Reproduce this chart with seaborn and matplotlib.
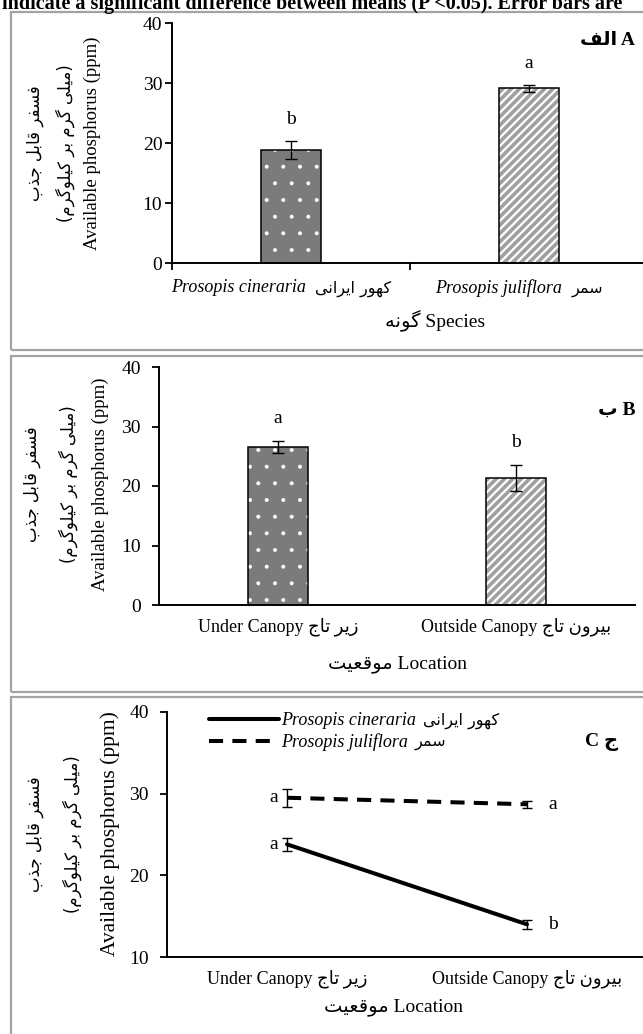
import numpy as np
import pandas as pd
import matplotlib
matplotlib.use("Agg")
import matplotlib.pyplot as plt
import matplotlib.colors as mcolors
from matplotlib.patches import Rectangle
from matplotlib.offsetbox import TextArea, HPacker, AnnotationBbox
import seaborn as sns

# ---------------- data ----------------
species_en = ["Prosopis cineraria", "Prosopis juliflora"]
species_fa = ["کهور ایرانی", "سمر"]
species_mean = [18.8, 29.1]
species_se = [1.5, 0.6]
species_letters = ["b", "a"]

location_en = ["Under Canopy", "Outside Canopy"]
location_fa = ["زیر تاج", "بیرون تاج"]
location_mean = [26.6, 21.3]
location_se = [1.0, 2.2]
location_letters = ["a", "b"]

cineraria_mean = [23.8, 14.0]
cineraria_se = [0.8, 0.55]
cineraria_letters = ["a", "b"]
juliflora_mean = [29.5, 28.7]
juliflora_se = [1.1, 0.4]
juliflora_letters = ["a", "a"]

yticks_ab = [0, 10, 20, 30, 40]
yticks_c = [10, 20, 30, 40]

ylabel_en = "Available phosphorus (ppm)"
ylabel_fa1 = "فسفر قابل جذب"
ylabel_fa2 = "(میلی گرم بر کیلوگرم)"
title_text = "indicate a significant difference between means (P <0.05). Error bars are"

# ---------------- Persian shaping (presentation forms, visual order) ----------------
FORMS = {
    "ا": ("\uFE8D", "\uFE8E", None, None),
    "ب": ("\uFE8F", "\uFE90", "\uFE91", "\uFE92"),
    "ت": ("\uFE95", "\uFE96", "\uFE97", "\uFE98"),
    "ج": ("\uFE9D", "\uFE9E", "\uFE9F", "\uFEA0"),
    "ذ": ("\uFEAB", "\uFEAC", None, None),
    "ر": ("\uFEAD", "\uFEAE", None, None),
    "ز": ("\uFEAF", "\uFEB0", None, None),
    "س": ("\uFEB1", "\uFEB2", "\uFEB3", "\uFEB4"),
    "ع": ("\uFEC9", "\uFECA", "\uFECB", "\uFECC"),
    "ف": ("\uFED1", "\uFED2", "\uFED3", "\uFED4"),
    "ق": ("\uFED5", "\uFED6", "\uFED7", "\uFED8"),
    "ل": ("\uFEDD", "\uFEDE", "\uFEDF", "\uFEE0"),
    "م": ("\uFEE1", "\uFEE2", "\uFEE3", "\uFEE4"),
    "ن": ("\uFEE5", "\uFEE6", "\uFEE7", "\uFEE8"),
    "ه": ("\uFEE9", "\uFEEA", "\uFEEB", "\uFEEC"),
    "و": ("\uFEED", "\uFEEE", None, None),
    "ی": ("\uFBFC", "\uFBFD", "\uFBFE", "\uFBFF"),
    "ک": ("\uFB8E", "\uFB8F", "\uFB90", "\uFB91"),
    "گ": ("\uFB92", "\uFB93", "\uFB94", "\uFB95"),
}


def fa(text):
    chars = list(text)
    n = len(chars)

    def dual(c):
        return c in FORMS and FORMS[c][2] is not None

    out = []
    for i, c in enumerate(chars):
        if c == "\u200c":
            continue
        if c not in FORMS:
            out.append(c)
            continue
        prev = chars[i - 1] if i > 0 else None
        nxt = chars[i + 1] if i < n - 1 else None
        jp = prev is not None and dual(prev)
        jn = nxt is not None and nxt in FORMS and dual(c)
        iso, fin, ini, med = FORMS[c]
        if jp and jn:
            g = med
        elif jp:
            g = fin
        elif jn:
            g = ini
        else:
            g = iso
        out.append(g)
    s = "".join(reversed(out))
    return s.translate(str.maketrans("()", ")("))


# ---------------- style ----------------
sns.set_style("ticks")
FAM = ["Liberation Serif", "DejaVu Sans"]
plt.rcParams["font.family"] = FAM
plt.rcParams["text.color"] = "black"
plt.rcParams["axes.labelcolor"] = "black"
plt.rcParams["xtick.color"] = "black"
plt.rcParams["ytick.color"] = "black"
plt.rcParams["axes.edgecolor"] = "black"
plt.rcParams["axes.linewidth"] = 1.4

W, H = 643, 1034
PT = 0.72  # points per pixel at dpi 100
fig = plt.figure(figsize=(W / 100, H / 100), dpi=100)
fig.patch.set_facecolor("white")


def fx(x):
    return x / W


def fy(y):
    return 1 - y / H


def rect(x0, x1, ytop, ybot):
    return [fx(x0), fy(ybot), (x1 - x0) / W, (ybot - ytop) / H]


# panel frames
for top, bot in [(12, 350), (356, 692), (697, 1045)]:
    fig.add_artist(Rectangle((fx(11), fy(bot)), (700 - 11) / W, (bot - top) / H,
                             transform=fig.transFigure, fill=False,
                             edgecolor="#a3a3a3", linewidth=1.6))

fig.text(0.003, fy(9), title_text, fontsize=14.5, fontweight="bold",
         ha="left", va="baseline", family="Liberation Serif")

axA = fig.add_axes(rect(172, 648, 23, 263))
axB = fig.add_axes(rect(159, 635, 367, 605))
axC = fig.add_axes(rect(167, 647, 712, 957))


def style_axis(ax, ylim, yticks, ypad):
    ax.set_xlim(-0.5, 1.5)
    ax.set_ylim(*ylim)
    ax.set_yticks(yticks)
    sns.despine(ax=ax)
    ax.set_facecolor("none")
    ax.tick_params(axis="y", length=5, width=1.3, direction="out",
                   labelsize=14, pad=ypad)
    ax.set_xlabel("")
    ax.set_ylabel("")


def set_hatch(p, hatch, color, lw):
    p.set_hatch(hatch)
    rgba = mcolors.to_rgba(color)
    if hasattr(p, "set_hatchcolor"):
        p.set_hatchcolor(rgba)
    else:
        p._hatch_color = rgba
    if hasattr(p, "set_hatch_linewidth"):
        p.set_hatch_linewidth(lw)


def style_bars(ax):
    bars = ax.patches
    bars[0].set_facecolor("#7b7b7b")
    set_hatch(bars[0], ".", "white", 0.4)
    bars[1].set_facecolor("white")
    set_hatch(bars[1], "////", "#a0a0a0", 2.6)


# ---------------- panel A ----------------
dfA = pd.DataFrame({"species": species_en, "P": species_mean})
sns.barplot(data=dfA, x="species", y="P", ax=axA, width=0.25, errorbar=None,
            color="white", edgecolor="black", linewidth=1.1, zorder=2)
style_bars(axA)
axA.errorbar([0, 1], species_mean, yerr=species_se, fmt="none", ecolor="black",
             elinewidth=1.0, capsize=4.3, capthick=1.0, zorder=3)
style_axis(axA, (0, 40), yticks_ab, 2)
axA.set_xticks([0, 1])
axA.set_xticklabels(["", ""])
axA.tick_params(axis="x", which="major", length=0)
axA.set_xticks([-0.5, 0.5, 1.5], minor=True)
axA.tick_params(axis="x", which="minor", length=5, width=1.3, direction="out")
for i, (m, s, l) in enumerate(zip(species_mean, species_se, species_letters)):
    axA.annotate(l, (i, m + s), xytext=(0, 17 * PT), textcoords="offset points",
                 ha="center", va="baseline", fontsize=14)
for i, (en, f) in enumerate(zip(species_en, species_fa)):
    t1 = TextArea(en, textprops=dict(fontsize=13, fontstyle="italic",
                                     family="Liberation Serif"))
    t2 = TextArea(fa(f), textprops=dict(fontsize=11.5, family="DejaVu Sans"))
    box = HPacker(children=[t1, t2], align="baseline", pad=0, sep=7)
    ab = AnnotationBbox(box, (i, 0), xycoords=("data", "axes fraction"),
                        xybox=(-10 * PT, -25 * PT), boxcoords="offset points",
                        frameon=False, box_alignment=(0.5, 0.5),
                        annotation_clip=False)
    axA.add_artist(ab)
axA.set_xlabel(fa("گونه") + " Species", fontsize=14)
axA.xaxis.set_label_coords((435 - 172) / 476, (263 - 310) / 240)
fig.text(fx(635), fy(41), fa("الف") + " A", fontsize=14, fontweight="bold",
         ha="right", va="center")

# ---------------- panel B ----------------
dfB = pd.DataFrame({"location": location_en, "P": location_mean})
sns.barplot(data=dfB, x="location", y="P", ax=axB, width=0.25, errorbar=None,
            color="white", edgecolor="black", linewidth=1.1, zorder=2)
style_bars(axB)
axB.errorbar([0, 1], location_mean, yerr=location_se, fmt="none", ecolor="black",
             elinewidth=1.0, capsize=4.3, capthick=1.0, zorder=3)
style_axis(axB, (0, 40), yticks_ab, 8)
axB.set_xticks([0, 1], [en + " " + fa(f) for en, f in zip(location_en, location_fa)],
               fontsize=13, family=FAM)
axB.tick_params(axis="x", length=0, pad=12 * PT)
for i, (m, s, l) in enumerate(zip(location_mean, location_se, location_letters)):
    axB.annotate(l, (i, m + s), xytext=(0, 18 * PT), textcoords="offset points",
                 ha="center", va="baseline", fontsize=14)
axB.set_xlabel(fa("موقعیت") + " Location", fontsize=14)
axB.xaxis.set_label_coords(0.5, (605 - 655) / 238)
fig.text(fx(635), fy(410), fa("ب") + " B", fontsize=14, fontweight="bold",
         ha="right", va="center")

# ---------------- panel C ----------------
dfC = pd.DataFrame({
    "location": location_en * 2,
    "species": [species_en[0]] * 2 + [species_en[1]] * 2,
    "P": cineraria_mean + juliflora_mean,
})
sns.lineplot(data=dfC, x="location", y="P", hue="species", style="species",
             palette=["black", "black"],
             dashes={species_en[0]: "", species_en[1]: (3.5, 2.3)},
             linewidth=2.9, ax=axC, legend=False, sort=False, zorder=2)
line_handles = list(axC.lines[:2])
for means, ses in [(cineraria_mean, cineraria_se), (juliflora_mean, juliflora_se)]:
    axC.errorbar([0, 1], means, yerr=ses, fmt="none", ecolor="black",
                 elinewidth=1.0, capsize=3.6, capthick=1.0, zorder=3)
style_axis(axC, (10, 40), yticks_c, 8)
axC.set_xticks([0, 1], [en + " " + fa(f) for en, f in zip(location_en, location_fa)],
               fontsize=13, family=FAM)
axC.tick_params(axis="x", length=0, pad=12 * PT)
for means, letters in [(cineraria_mean, cineraria_letters), (juliflora_mean, juliflora_letters)]:
    axC.annotate(letters[0], (0, means[0]), xytext=(-9 * PT, 0),
                 textcoords="offset points", ha="right", va="center", fontsize=14)
    axC.annotate(letters[1], (1, means[1]), xytext=(21 * PT, 0),
                 textcoords="offset points", ha="left", va="center", fontsize=14)
axC.set_xlabel(fa("موقعیت") + " Location", fontsize=14)
axC.xaxis.set_label_coords(0.5 - 14 / 480, (957 - 998) / 245)
leg = axC.legend(handles=line_handles, labels=species_en, loc="upper left",
                 bbox_to_anchor=((209 - 167) / 480, 1.0), frameon=False,
                 prop=dict(family="Liberation Serif", style="italic", size=13),
                 handlelength=3.9, handletextpad=0.1, borderpad=0,
                 borderaxespad=0, labelspacing=0.25)
for txt, f in zip(leg.get_texts(), species_fa):
    axC.annotate(fa(f), xy=(1, 0.5), xycoords=txt, xytext=(5, 0),
                 textcoords="offset points", ha="left", va="center",
                 fontsize=11.5, family="DejaVu Sans", zorder=6)
fig.text(fx(618), fy(742), "C " + fa("ج"), fontsize=14, fontweight="bold",
         ha="right", va="center")

# ---------------- y labels ----------------
for (xe, x2, x1, yc, se) in [(92, 65, 35, 143, 13.5), (100, 68, 32, 484, 13.5),
                             (110, 72, 35, 834, 15.5)]:
    fig.text(fx(xe), fy(yc), ylabel_en, rotation=90, ha="center", va="center",
             fontsize=se, family="Liberation Serif")
    fig.text(fx(x2), fy(yc), fa(ylabel_fa2), rotation=90, ha="center",
             va="center", fontsize=12, family="DejaVu Sans")
    fig.text(fx(x1), fy(yc), fa(ylabel_fa1), rotation=90, ha="center",
             va="center", fontsize=12, family="DejaVu Sans")

fig.savefig("out.png", dpi=100, facecolor="white")
